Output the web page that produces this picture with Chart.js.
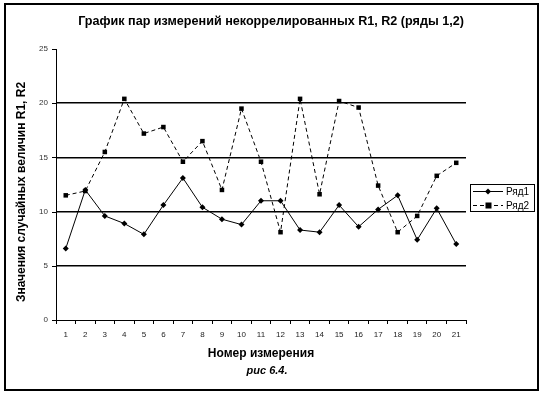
<!DOCTYPE html>
<html><head><meta charset="utf-8">
<script src="https://cdn.jsdelivr.net/npm/chart.js@4"></script>
<style>html,body{margin:0;padding:0;background:#fff}#wrap{width:543px;height:396px;position:relative}</style>
</head><body><div id="wrap"><canvas id="c" width="543" height="396"></canvas></div>
<script>
const categories = ['1','2','3','4','5','6','7','8','9','10','11','12','13','14','15','16','17','18','19','20','21'];
const series1 = [6.6,12.0,9.6,8.9,7.9,10.6,13.1,10.4,9.3,8.8,11.0,11.0,8.3,8.1,10.6,8.6,10.2,11.5,7.4,10.3,7.0];
const series2 = [11.5,11.9,15.5,20.4,17.2,17.8,14.6,16.5,12.0,19.5,14.6,8.1,20.4,11.6,20.2,19.6,12.4,8.1,9.6,13.3,14.5];
const seriesNames = ['Ряд1','Ряд2'];
const yTicks = [0,5,10,15,20,25];
const titleText = 'График пар измерений некоррелированных R1, R2 (ряды 1,2)';
const yTitle = 'Значения случайных величин R1, R2';
const xTitle = 'Номер измерения';
const caption = 'рис 6.4.';

const FONT = '"Liberation Sans", Arial, sans-serif';

const deco = {
  id: 'deco',
  afterDraw(chart) {
    const ctx = chart.ctx;
    ctx.save();
    ctx.strokeStyle = '#000'; ctx.lineWidth = 2;
    ctx.strokeRect(5, 4, 533, 386);
    ctx.fillStyle = '#000';
    ctx.textAlign = 'center'; ctx.textBaseline = 'middle';
    ctx.font = 'bold 12.6px ' + FONT;
    ctx.fillText(titleText, 271, 22);
    ctx.font = 'bold 12px ' + FONT;
    ctx.fillText(xTitle, 261, 354);
    ctx.font = 'italic bold 11px ' + FONT;
    ctx.fillText(caption, 267, 371);
    ctx.save();
    ctx.translate(22, 192); ctx.rotate(-Math.PI/2);
    ctx.font = 'bold 12px ' + FONT;
    ctx.fillText(yTitle, 0, 0);
    ctx.restore();
    ctx.lineWidth = 1;
    ctx.strokeRect(470.5, 184.5, 64, 27);
    const rows = [191, 205];
    chart.data.datasets.forEach((ds, i) => {
      const y = rows[i] + 0.5;
      ctx.beginPath();
      ctx.setLineDash(i === 0 ? [] : [4, 3]);
      ctx.moveTo(473, y); ctx.lineTo(503, y);
      ctx.stroke();
      ctx.setLineDash([]);
      if (i === 0) {
        ctx.beginPath();
        ctx.moveTo(488, y-3); ctx.lineTo(491, y); ctx.lineTo(488, y+3); ctx.lineTo(485, y); ctx.closePath(); ctx.fill();
      } else {
        ctx.fillRect(485.5, y-3, 6, 6);
      }
      ctx.textAlign = 'left';
      ctx.font = '10px ' + FONT;
      ctx.fillText(ds.label, 506, y + 1);
    });
    ctx.restore();
  }
};

new Chart(document.getElementById('c'), {
  type: 'line',
  data: {
    labels: categories,
    datasets: [
      { label: seriesNames[0], data: series1, borderColor: '#000', backgroundColor: '#000', borderWidth: 1,
        pointStyle: 'rectRot', pointRadius: 3, pointBorderWidth: 0, tension: 0 },
      { label: seriesNames[1], data: series2, borderColor: '#000', backgroundColor: '#000', borderWidth: 1,
        borderDash: [4, 3], pointStyle: 'rect', pointRadius: 3.2, pointBorderWidth: 0, tension: 0 }
    ]
  },
  options: {
    responsive: false, animation: false, devicePixelRatio: 1,
    layout: { padding: { left: 0, top: 49, right: 77, bottom: 0 } },
    plugins: { legend: { display: false }, title: { display: false }, tooltip: { enabled: false } },
    scales: {
      x: {
        offset: true,
        grid: { display: true, drawOnChartArea: false, drawTicks: true, tickLength: 4, color: '#000', offset: true },
        border: { display: true, color: '#000', width: 1 },
        ticks: { color: '#222', font: { size: 8, family: FONT }, padding: 6, maxRotation: 0, autoSkip: false },
        afterFit(s) { s.height = 76; }
      },
      y: {
        min: 0, max: 25,
        afterBuildTicks(s) { s.ticks = yTicks.map(v => ({ value: v })); },
        grid: { color: (c) => (c.tick && (c.tick.value === 25 || c.tick.value === 0)) ? 'rgba(0,0,0,0)' : '#000', lineWidth: 1.5, drawTicks: false },
        border: { display: true, color: '#000', width: 1 },
        ticks: { color: '#333', font: { size: 8, family: FONT }, padding: 8 },
        afterFit(s) { s.width = 56; }
      }
    }
  },
  plugins: [deco, {
    id: 'yticks',
    afterDraw(chart) {
      const ctx = chart.ctx, y = chart.scales.y, x0 = chart.chartArea.left;
      ctx.save(); ctx.strokeStyle = '#000'; ctx.lineWidth = 1;
      yTicks.forEach(v => { const p = Math.round(y.getPixelForValue(v)) + 0.5; ctx.beginPath(); ctx.moveTo(x0 - 4, p); ctx.lineTo(x0, p); ctx.stroke(); });
      ctx.restore();
    }
  }]
});
</script></body></html>
